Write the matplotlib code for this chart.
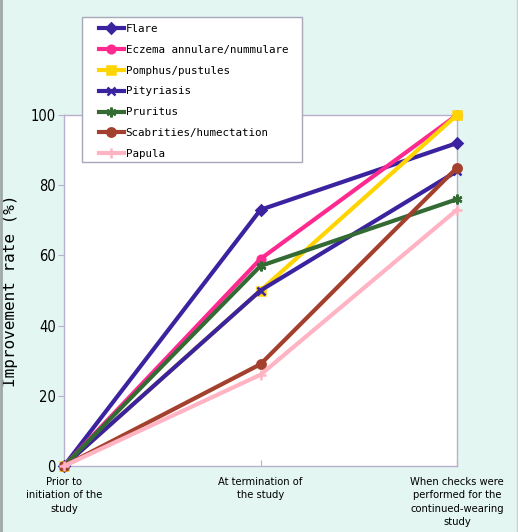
import numpy as np
import matplotlib
matplotlib.use('Agg')
import matplotlib.pyplot as plt
from matplotlib.patches import Rectangle

# Data (improvement rate, %)
categories = ['Prior to\ninitiation of the\nstudy',
              'At termination of\nthe study',
              'When checks were\nperformed for the\ncontinued-wearing\nstudy']
flare = [0, 73, 92]
eczema = [0, 59, 100]
pomphus = [0, 50, 100]
pityriasis = [0, 50, 84]
pruritus = [0, 57, 76]
scabrities = [0, 29, 85]
papula = [0, 26, 73]
y_ticks = [0, 20, 40, 60, 80, 100]

series = [
    ('Flare', flare, '#3b23a0', 'D', 5),
    ('Eczema annulare/nummulare', eczema, '#ff2a90', 'o', 5.5),
    ('Pomphus/pustules', pomphus, '#ffd400', 's', 6),
    ('Pityriasis', pityriasis, '#3b23a0', 'x', 6),
    ('Pruritus', pruritus, '#346b34', (6, 2, 0), 7),
    ('Scabrities/humectation', scabrities, '#a4402e', 'o', 6),
    ('Papula', papula, '#ffb3c3', '+', 7),
]

bg = '#e3f6f2'
mono = 'DejaVu Sans Mono'
W, H = 518, 532

fig = plt.figure(figsize=(W / 100, H / 100), dpi=100, facecolor=bg)
ax = fig.add_axes([64 / W, 1 - 466 / H, (457 - 64) / W, (466 - 115) / H])
ax.set_facecolor('white')

x = np.arange(len(categories))
handles = []
for name, vals, col, mk, ms in series:
    h, = ax.plot(x, vals, color=col, lw=3, marker=mk, markersize=ms,
                 markeredgewidth=1.8, markeredgecolor=col, markerfacecolor=col,
                 label=name, clip_on=False, zorder=3)
    handles.append(h)

ax.set_xlim(0, 2)
ax.set_ylim(0, 100)
ax.set_yticks(y_ticks)
ax.set_yticklabels([str(v) for v in y_ticks], family='DejaVu Sans',
                   fontstretch='condensed', fontsize=10.5)
ax.set_xticks(x)
ax.set_xticklabels(categories, family='DejaVu Sans', fontstretch='condensed',
                   fontsize=8, linespacing=1.4)
ax.tick_params(axis='x', direction='in', length=4, pad=8, color='#b8b0cc')
ax.tick_params(axis='y', direction='out', length=4, pad=2, color='#b8b0cc')
for s in ax.spines.values():
    s.set_color('#b8b0cc')
    s.set_linewidth(1)

ax.set_ylabel('Improvement rate (%)', family=mono, fontsize=11.5)
ax.yaxis.set_label_coords(-0.118, 0.5)

# legend frame drawn separately so its padding can be set freely
fig.patches.append(Rectangle((82 / W, 1 - 162 / H), 220 / W, 145 / H,
                             transform=fig.transFigure, facecolor='white',
                             edgecolor='#a8a8b8', lw=1, zorder=4))
leg = fig.legend(handles=handles, loc='upper left', bbox_to_anchor=(99 / W, 1 - 24 / H),
                 prop={'family': mono, 'size': 7.8}, frameon=False,
                 handlelength=2.3, handletextpad=0.15, labelspacing=1.0,
                 borderpad=0, borderaxespad=0)
leg.set_zorder(5)

# thin grey edges of the original picture
fig.add_artist(plt.Line2D([1 / W, 1 / W], [0, 1], color='#a0a8a8', lw=2))
fig.add_artist(plt.Line2D([516.5 / W, 516.5 / W], [0, 1], color='#c8d4d2', lw=1))

fig.savefig('out.png', dpi=100, facecolor=bg)
